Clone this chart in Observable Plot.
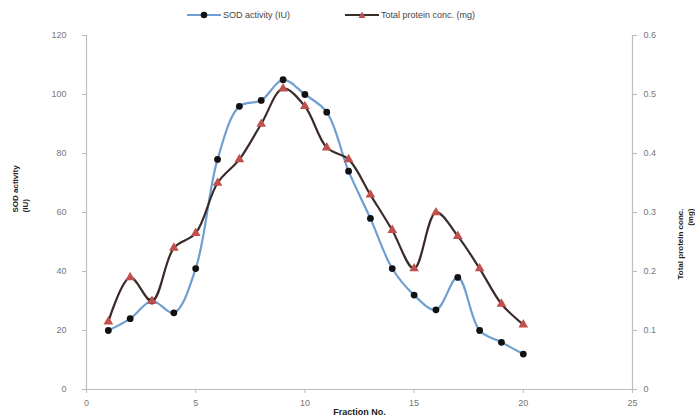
<!DOCTYPE html>
<html>
<head>
<meta charset="utf-8">
<script src="https://cdn.jsdelivr.net/npm/d3@7"></script>
<script src="https://cdn.jsdelivr.net/npm/@observablehq/plot@0.6"></script>
<style>
  body { margin: 0; background: #fff; font-family: "Liberation Sans", "Open Sans", sans-serif; }
  #legend { height: 28px; position: relative; font-size: 9px; color: #444; }
  .item { position: absolute; top: 9px; display: flex; align-items: center; gap: 2px; }
</style>
</head>
<body>
<div id="legend">
  <div class="item" style="left:187px">
    <svg width="34" height="12"><line x1="0" y1="6" x2="34" y2="6" stroke="#6f9fd0" stroke-width="2"/><circle cx="17" cy="6" r="3.3" fill="#111"/></svg>
    <span>SOD activity (IU)</span>
  </div>
  <div class="item" style="left:345px">
    <svg width="34" height="12"><line x1="0" y1="6" x2="34" y2="6" stroke="#3a2c28" stroke-width="2"/><path d="M17,2.5 L20.5,9 L13.5,9 Z" fill="#c0504d"/></svg>
    <span>Total protein conc. (mg)</span>
  </div>
</div>
<div id="chart"></div>
<script>
const fractions = [1,2,3,4,5,6,7,8,9,10,11,12,13,14,15,16,17,18,19,20];
const sodActivity = [20,24,30,26,41,78,96,98,105,100,94,74,58,41,32,27,38,20,16,12];
const proteinConc = [0.115,0.19,0.15,0.24,0.265,0.35,0.39,0.45,0.51,0.48,0.41,0.39,0.33,0.27,0.205,0.30,0.26,0.205,0.145,0.11];
const leftTicks = [0,20,40,60,80,100,120];
const xTicks = [0,5,10,15,20,25];
const ratio = 200; // right axis 0–0.6 mapped onto left 0–120

const sod = fractions.map((f,i) => ({f, v: sodActivity[i]}));
const prot = fractions.map((f,i) => ({f, v: proteinConc[i] * ratio}));

const chart = Plot.plot({
  width: 695,
  height: 391,
  marginLeft: 86,
  marginRight: 63,
  marginTop: 7,
  marginBottom: 30,
  style: {fontFamily: "Liberation Sans, Open Sans, sans-serif", fontSize: "9px", color: "#666", background: "#fff"},
  x: {domain: [0,25]},
  y: {domain: [0,120]},
  marks: [
    Plot.ruleX([0,25], {stroke: "#bdbdbd", strokeWidth: 1.2}),
    Plot.ruleY([0], {stroke: "#bdbdbd", strokeWidth: 1.2}),
    Plot.axisX({ticks: xTicks, tickSize: 4, tickPadding: 6, stroke: "#bbb", fill: "#777", label: null}),
    Plot.axisY({ticks: leftTicks, tickSize: 4, tickPadding: 16, stroke: "#bbb", fill: "#777", label: null, anchor: "left"}),
    Plot.axisY({ticks: leftTicks, tickSize: 4, tickPadding: 7, stroke: "#bbb", fill: "#777", label: null, anchor: "right", textAnchor: "start", tickFormat: d => d3.format("~g")(+(d/ratio).toFixed(2))}),
    Plot.line(sod, {x: "f", y: "v", curve: "catmull-rom", stroke: "#6f9fd0", strokeWidth: 2.2}),
    Plot.line(prot, {x: "f", y: "v", curve: "catmull-rom", stroke: "#3a2c28", strokeWidth: 2.2}),
    Plot.dot(sod, {x: "f", y: "v", r: 3.4, fill: "#111", stroke: "none"}),
    Plot.dot(prot, {x: "f", y: "v", symbol: "triangle", r: 3.6, fill: "#c0504d", stroke: "none"}),
    Plot.text(["SOD activity\n(IU)"], {frameAnchor: "left", dx: -67, rotate: -90, fontWeight: "bold", fill: "#222", fontSize: 8, lineHeight: 1.3}),
    Plot.text(["Total protein conc.\n(mg)"], {frameAnchor: "right", dx: 52, dy: -4, rotate: -90, fontWeight: "bold", fill: "#222", fontSize: 8, lineHeight: 1.3}),
    Plot.text(["Fraction No."], {frameAnchor: "bottom", dy: 25, fontWeight: "bold", fill: "#222", fontSize: 9})
  ]
});
document.getElementById("chart").appendChild(chart);
</script>
</body>
</html>
